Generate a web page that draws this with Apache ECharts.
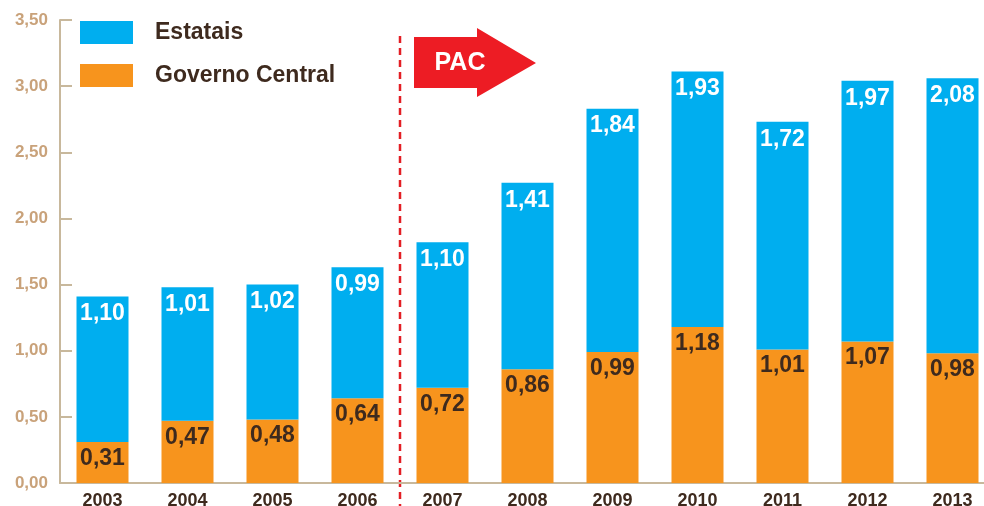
<!DOCTYPE html>
<html>
<head>
<meta charset="utf-8">
<script src="https://cdn.jsdelivr.net/npm/echarts@6/dist/echarts.min.js"></script>
<style>
  html, body { margin: 0; padding: 0; background: #fff; }
  #chart { width: 984px; height: 506px; }
</style>
</head>
<body>
<div id="chart"></div>
<script>
var years = ['2003', '2004', '2005', '2006', '2007', '2008', '2009', '2010', '2011', '2012', '2013']
var governoCentral = [0.31, 0.47, 0.48, 0.64, 0.72, 0.86, 0.99, 1.18, 1.01, 1.07, 0.98]
var estatais = [1.10, 1.01, 1.02, 0.99, 1.10, 1.41, 1.84, 1.93, 1.72, 1.97, 2.08]

var FONT = '"Liberation Sans", Arial, sans-serif'
var DARK = '#3e2a1e'
var AXIS = '#c8b89c'

function fmt(v) {
  return Number(v).toFixed(2).replace('.', ',')
}

var chart = echarts.init(document.getElementById('chart'))
chart.setOption({
  backgroundColor: '#fff',
  animation: false,
  textStyle: { fontFamily: FONT },
  // the last category runs past the right edge of the picture
  grid: { left: 60, width: 935, top: 20, bottom: 23, containLabel: false, outerBoundsMode: 'none' },
  legend: {
    orient: 'vertical',
    left: 80,
    top: 21,
    padding: 0,
    itemWidth: 53,
    itemHeight: 23,
    itemGap: 20,
    icon: 'rect',
    data: ['Estatais', 'Governo Central'],
    textStyle: { color: DARK, fontSize: 23, fontWeight: 'bold', fontFamily: FONT, padding: [0, 0, 0, 17] }
  },
  xAxis: {
    type: 'category',
    data: years,
    axisLine: { lineStyle: { color: AXIS, width: 2 } },
    axisTick: { inside: true, length: 11, lineStyle: { color: AXIS, width: 2 } },
    axisLabel: { color: DARK, fontSize: 18, fontWeight: 'bold', margin: 9, fontFamily: FONT }
  },
  yAxis: {
    type: 'value',
    min: 0,
    max: 3.5,
    interval: 0.5,
    splitLine: { show: false },
    axisLine: { show: true, lineStyle: { color: AXIS, width: 2 } },
    axisTick: { show: true, inside: true, length: 12, lineStyle: { color: AXIS, width: 2 } },
    axisLabel: { color: '#c9a27a', fontSize: 17, fontWeight: 'bold', margin: 12, fontFamily: FONT, formatter: fmt }
  },
  series: [
    {
      name: 'Governo Central',
      type: 'bar',
      stack: 'total',
      barWidth: 52,
      itemStyle: { color: '#f7941d' },
      label: {
        show: true,
        position: 'insideTop',
        distance: 5,
        color: DARK,
        fontSize: 23,
        fontWeight: 'bold',
        fontFamily: FONT,
        formatter: function (p) { return fmt(p.value) }
      },
      data: governoCentral
    },
    {
      name: 'Estatais',
      type: 'bar',
      stack: 'total',
      barWidth: 52,
      itemStyle: { color: '#00aeef' },
      label: {
        show: true,
        position: 'insideTop',
        distance: 6,
        color: '#fff',
        fontSize: 23,
        fontWeight: 'bold',
        fontFamily: FONT,
        formatter: function (p) { return fmt(p.value) }
      },
      data: estatais
    }
  ]
})

// dashed divider between 2006 and 2007, and the PAC arrow
var x06 = chart.convertToPixel({ xAxisIndex: 0 }, '2006')
var x07 = chart.convertToPixel({ xAxisIndex: 0 }, '2007')
var xDiv = (x06 + x07) / 2

chart.setOption({
  graphic: [
    {
      type: 'line',
      shape: { x1: xDiv, y1: 36, x2: xDiv, y2: 506 },
      style: { stroke: '#e31e24', lineWidth: 2.5, lineDash: [7, 5] }
    },
    {
      type: 'polygon',
      shape: {
        points: [[414, 37], [477, 37], [477, 28], [536, 63], [477, 97], [477, 88], [414, 88]]
      },
      style: { fill: '#ed1c24' }
    },
    {
      type: 'text',
      x: 460,
      y: 63,
      style: {
        text: 'PAC',
        fill: '#fff',
        font: 'bold 25px ' + FONT,
        textAlign: 'center',
        textVerticalAlign: 'middle'
      }
    }
  ]
})
</script>
</body>
</html>
